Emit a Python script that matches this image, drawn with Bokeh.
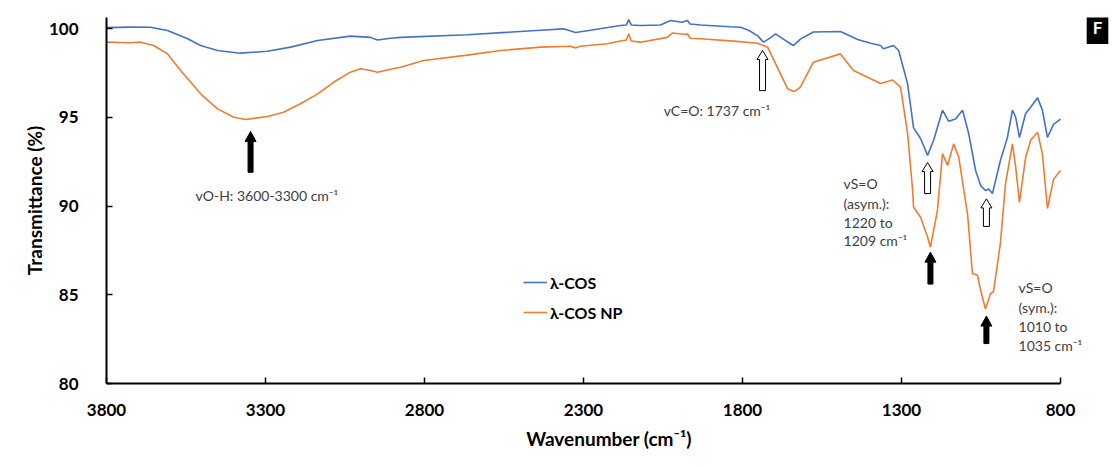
from bokeh.plotting import figure
from bokeh.models import Range1d, FixedTicker, Legend, LegendItem, Label
from bokeh.core.properties import value
from bokeh.embed import file_html
from bokeh.resources import INLINE

# ---------------- data ----------------
cos_w = [3800, 3725, 3662, 3608, 3545, 3504, 3451, 3379, 3294, 3221, 3136, 3033, 2970, 2948,
         2907, 2875, 2665, 2435, 2363, 2325, 2278, 2184, 2165, 2158, 2150, 2121, 2058, 2026,
         1990, 1973, 1965, 1932, 1838, 1806, 1781, 1753, 1734, 1710, 1696, 1680, 1649, 1640,
         1618, 1577, 1492, 1438, 1397, 1366, 1357, 1325, 1309, 1281, 1262, 1240, 1218, 1199,
         1171, 1152, 1130, 1108, 1089, 1067, 1051, 1036, 1026, 1014, 989, 967, 951, 941, 929,
         910, 894, 872, 857, 841, 822, 800]
cos_t = [100.05, 100.08, 100.07, 99.89, 99.42, 99.04, 98.76, 98.61, 98.72, 98.95, 99.32,
         99.57, 99.5, 99.35, 99.45, 99.5, 99.65, 99.9, 99.98, 99.77, 99.9, 100.17, 100.2,
         100.5, 100.2, 100.17, 100.2, 100.45, 100.35, 100.45, 100.25, 100.2, 100.1, 100.07,
         99.9, 99.6, 99.23, 99.5, 99.7, 99.5, 99.14, 99.04, 99.4, 99.8, 99.83, 99.38, 99.17,
         99.04, 98.86, 99.04, 98.76, 96.9, 94.4, 93.8, 92.85, 93.7, 95.4, 94.78, 94.9, 95.4,
         94.1, 92.0, 91.15, 90.87, 90.96, 90.7, 92.56, 93.86, 95.4, 95.0, 93.86, 95.2, 95.56,
         96.1, 95.4, 93.86, 94.6, 94.9]

np_w = [3800, 3725, 3693, 3652, 3608, 3567, 3504, 3451, 3400, 3363, 3294, 3243, 3190, 3136,
        3086, 3033, 3001, 2970, 2948, 2907, 2875, 2803, 2665, 2561, 2435, 2340, 2325, 2310,
        2224, 2184, 2165, 2158, 2150, 2121, 2036, 2020, 1979, 1973, 1965, 1932, 1828, 1753,
        1721, 1690, 1658, 1640, 1633, 1618, 1577, 1492, 1451, 1397, 1366, 1328, 1303, 1281,
        1265, 1262, 1240, 1218, 1209, 1187, 1171, 1155, 1136, 1120, 1105, 1092, 1077, 1061,
        1051, 1036, 1020, 1011, 989, 973, 951, 941, 929, 910, 894, 872, 857, 841, 822, 800]
np_t = [99.23, 99.2, 99.23, 99.04, 98.57, 97.63, 96.32, 95.47, 95.0, 94.87, 95.04, 95.28,
        95.76, 96.32, 96.97, 97.54, 97.73, 97.63, 97.54, 97.7, 97.82, 98.2, 98.5, 98.76,
        98.95, 99.0, 98.9, 99.0, 99.14, 99.3, 99.35, 99.7, 99.3, 99.23, 99.5, 99.75, 99.66,
        99.7, 99.45, 99.42, 99.29, 99.17, 98.95, 97.8, 96.6, 96.45, 96.5, 96.7, 98.1, 98.57,
        97.63, 97.17, 96.9, 97.1, 96.7, 94.1, 90.9, 89.93, 89.37, 88.24, 87.68, 89.75, 92.95,
        92.28, 93.5, 92.75, 91.0, 89.5, 86.2, 86.1, 85.24, 84.2, 85.07, 85.15, 87.9, 91.25,
        93.5, 92.2, 90.2, 92.7, 93.7, 94.15, 92.95, 89.86, 91.5, 92.0]

series_names = ["λ-COS", "λ-COS NP"]
x_ticks = [3800, 3300, 2800, 2300, 1800, 1300, 800]
y_ticks = [80, 85, 90, 95, 100]
x_start, x_stop = 3800, 800
y_start, y_stop = 80, 100

# annotation arrows: (wavenumber, tip T, tail T, filled?)
arrow_x = [3347, 1737, 1218, 1209, 1033, 1033]
arrow_tip = [94.2, 98.76, 92.45, 87.4, 90.4, 83.8]
arrow_tail = [91.9, 96.5, 90.7, 85.6, 88.85, 82.25]
arrow_filled = [True, False, False, True, False, True]

# annotation text lines
note_x = [3520, 2048, 1482, 1482, 1482, 1482, 932, 932, 932, 932]
note_y = [90.6, 95.4, 91.27, 90.14, 89.07, 88.06, 85.41, 84.28, 83.2, 82.14]
note_text = ["vO-H: 3600-3300 cm⁻¹", "vC=O: 1737 cm⁻¹",
             "vS=O", "(asym.):", "1220 to", "1209 cm⁻¹",
             "vS=O", "(sym.):", "1010 to", "1035 cm⁻¹"]

# ---------------- layout (pixels) ----------------
W, H = 1111, 458
LEFT, TOP, BOTTOM = 106, 17, 75
AXIS_PX = 954          # pixel length of the 3800..800 axis
frame_w = W - LEFT
frame_h = H - TOP - BOTTOM
units_per_px_x = (x_start - x_stop) / AXIS_PX
y_per_px = 1.0 / 17.75
x_end = x_start - frame_w * units_per_px_x
y_end = y_start + frame_h * y_per_px

FONT = "Lato"
p = figure(width=W, height=H, output_backend="svg", toolbar_location=None,
           x_range=Range1d(x_start, x_end), y_range=Range1d(y_start, y_end),
           min_border_left=LEFT, min_border_right=0, min_border_top=TOP,
           min_border_bottom=BOTTOM)
p.outline_line_color = None
p.xgrid.visible = False
p.ygrid.visible = False
p.background_fill_color = "white"
p.border_fill_color = "white"

r1 = p.line(cos_w, cos_t, line_color="#4472C4", line_width=1.6)
r2 = p.line(np_w, np_t, line_color="#ED7D31", line_width=1.6)

# arrows as polygons (pixel-size styling converted to data units)
fx, fy, hx, hy = [], [], [], []
for xc, yt, yb, filled in zip(arrow_x, arrow_tip, arrow_tail, arrow_filled):
    if filled:
        sw, hw, hh = 5, 11, 10
    else:
        sw, hw, hh = 6, 11, 9
    dx_s = sw / 2 * units_per_px_x
    dx_h = hw / 2 * units_per_px_x
    yh = yt - hh * y_per_px
    xs = [xc, xc - dx_h, xc - dx_s, xc - dx_s, xc + dx_s, xc + dx_s, xc + dx_h]
    ys = [yt, yh, yh, yb, yb, yh, yh]
    if filled:
        fx.append(xs); fy.append(ys)
    else:
        hx.append(xs); hy.append(ys)
p.patches(fx, fy, fill_color="black", line_color="black", line_width=1)
p.patches(hx, hy, fill_color="white", line_color="black", line_width=1)

p.text(note_x, note_y, text=note_text, text_font=value(FONT), text_font_size="14px",
       text_color="#404040", text_align="left", text_baseline="middle")

# axes
p.xaxis.ticker = FixedTicker(ticks=x_ticks)
p.yaxis.ticker = FixedTicker(ticks=y_ticks)
p.xaxis.bounds = (x_start, x_stop)
p.yaxis.bounds = (y_start, y_end)
for ax in (p.xaxis[0], p.yaxis[0]):
    ax.axis_line_color = "black"
    ax.axis_line_width = 2
    ax.major_tick_line_color = "black"
    ax.major_tick_line_width = 1.5
    ax.major_tick_in = 6
    ax.major_tick_out = 0
    ax.minor_tick_line_color = None
    ax.major_label_text_font = FONT
    ax.major_label_text_font_style = "bold"
    ax.major_label_text_font_size = "17px"
    ax.major_label_text_color = "black"
    ax.axis_label_text_font = FONT
    ax.axis_label_text_font_style = "bold"
    ax.axis_label_text_font_size = "19px"
    ax.axis_label_text_color = "black"
p.xaxis.axis_label = "Wavenumber (cm⁻¹)"
p.yaxis.axis_label = "Transmittance (%)"
p.xaxis.major_label_standoff = 20
p.xaxis.axis_label_standoff = 8
p.yaxis.major_label_standoff = 28
p.yaxis.axis_label_standoff = 0

legend = Legend(items=[LegendItem(label=series_names[0], renderers=[r1]),
                       LegendItem(label=series_names[1], renderers=[r2])],
                location=(417, 61), padding=0, margin=0, spacing=10,
                glyph_width=24, glyph_height=20, label_height=20, label_standoff=3,
                border_line_alpha=0, background_fill_alpha=0,
                label_text_font=FONT, label_text_font_style="bold",
                label_text_font_size="16px", label_text_color="black")
p.add_layout(legend)

panel = Label(x=1097 - LEFT, y=H - BOTTOM - 27, x_units="screen", y_units="screen",
              text="F", text_font=FONT, text_font_style="bold", text_font_size="17px",
              text_color="white", text_align="center", text_baseline="middle",
              background_fill_color="black", padding=6)
p.add_layout(panel)

open("out.html", "w").write(file_html(p, INLINE))
